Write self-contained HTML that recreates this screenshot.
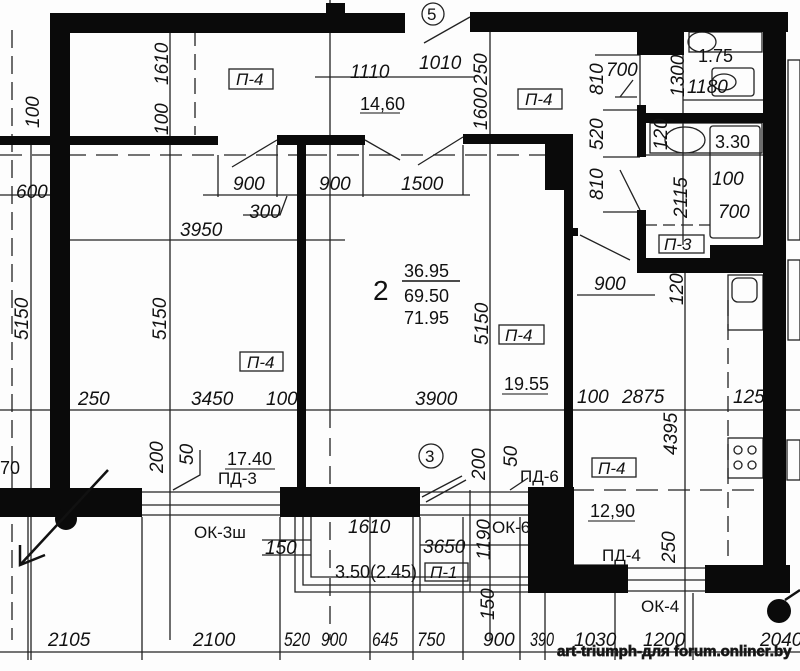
<!DOCTYPE html>
<html><head><meta charset="utf-8"><style>
html,body{margin:0;padding:0;background:#fff;}
svg{display:block;}
text{font-family:"Liberation Sans",sans-serif;fill:#111;}
.d{font-style:italic;font-size:19px;}
.n{font-size:17px;}
</style></head><body>
<svg width="800" height="671" viewBox="0 0 800 671" xmlns="http://www.w3.org/2000/svg">
<rect width="800" height="671" fill="#fdfdfd"/>
<g stroke="#222" stroke-width="1.3" fill="none">
<line x1="170" y1="30" x2="170" y2="640"/>
<line x1="330" y1="0" x2="330" y2="410"/>
<line x1="490" y1="30" x2="490" y2="640"/>
<line x1="31" y1="140" x2="31" y2="660"/>
<line x1="0" y1="195" x2="50" y2="195"/>
<line x1="203" y1="195" x2="470" y2="195"/>
<line x1="68" y1="240" x2="345" y2="240"/>
<line x1="0" y1="410" x2="800" y2="410"/>
<line x1="0" y1="652" x2="800" y2="652"/>
<line x1="315" y1="77" x2="475" y2="77"/>
<line x1="218" y1="155" x2="218" y2="197"/>
<line x1="277" y1="145" x2="277" y2="197"/>
<line x1="363" y1="145" x2="363" y2="197"/>
<line x1="463" y1="145" x2="463" y2="195"/>
<line x1="640" y1="32" x2="640" y2="110"/>
<line x1="683" y1="100" x2="770" y2="100"/>
<line x1="615" y1="97" x2="637" y2="97"/>
<line x1="595" y1="55" x2="640" y2="55"/>
<line x1="603" y1="110" x2="637" y2="110"/>
<line x1="603" y1="157" x2="640" y2="157"/>
<line x1="603" y1="212" x2="640" y2="212"/>
<line x1="683" y1="55" x2="683" y2="113"/>
<line x1="683" y1="123" x2="683" y2="245"/>
<line x1="685" y1="273" x2="685" y2="650"/>
<line x1="577" y1="295" x2="655" y2="295"/>
<line x1="645" y1="155" x2="765" y2="155"/>
<line x1="645" y1="225" x2="710" y2="225" stroke-dasharray="12 6"/>
<line x1="728" y1="300" x2="728" y2="560" stroke-dasharray="16 8"/>
<line x1="195" y1="30" x2="195" y2="135" stroke-dasharray="16 8"/>
<line x1="12" y1="30" x2="12" y2="640" stroke-dasharray="18 8"/>
<line x1="0" y1="155" x2="300" y2="155" stroke-dasharray="22 10"/>
<line x1="305" y1="155" x2="545" y2="155" stroke-dasharray="22 10"/>
<line x1="572" y1="490" x2="760" y2="490" stroke-dasharray="22 10"/>
<line x1="330" y1="410" x2="330" y2="640" stroke-dasharray="18 10"/>
<line x1="28" y1="517" x2="28" y2="660"/>
<line x1="142" y1="517" x2="142" y2="660"/>
<line x1="280" y1="517" x2="280" y2="660"/>
<line x1="370" y1="517" x2="370" y2="660"/>
<line x1="413" y1="517" x2="413" y2="660"/>
<line x1="463" y1="517" x2="463" y2="660"/>
<line x1="520" y1="517" x2="520" y2="660"/>
<line x1="545" y1="593" x2="545" y2="660"/>
<line x1="615" y1="593" x2="615" y2="660"/>
<line x1="693" y1="593" x2="693" y2="660"/>
<polyline points="295,517 295,592 547,592"/>
<polyline points="303,517 303,585 547,585"/>
<polyline points="311,517 311,577 547,577"/>
<line x1="262" y1="555" x2="311" y2="555"/>
<line x1="262" y1="540" x2="311" y2="540"/>
<line x1="420" y1="545" x2="550" y2="545"/>
<line x1="420" y1="517" x2="420" y2="592"/>
<line x1="470" y1="490" x2="470" y2="592"/>
<line x1="548" y1="517" x2="548" y2="592"/>
<line x1="142" y1="492" x2="280" y2="492"/>
<line x1="142" y1="505" x2="280" y2="505"/>
<line x1="142" y1="515" x2="280" y2="515"/>
<line x1="420" y1="492" x2="528" y2="492"/>
<line x1="420" y1="505" x2="528" y2="505"/>
<line x1="420" y1="515" x2="528" y2="515"/>
<line x1="628" y1="568" x2="705" y2="568"/>
<line x1="628" y1="580" x2="705" y2="580"/>
<line x1="628" y1="591" x2="705" y2="591"/>
<line x1="572" y1="565" x2="628" y2="565"/>
<line x1="232" y1="167" x2="277" y2="140"/>
<line x1="365" y1="140" x2="400" y2="160"/>
<line x1="418" y1="165" x2="463" y2="137"/>
<line x1="424" y1="43" x2="470" y2="17"/>
<line x1="580" y1="235" x2="630" y2="260"/>
<line x1="620" y1="170" x2="640" y2="210"/>
<line x1="620" y1="97" x2="633" y2="80"/>
<line x1="422" y1="497" x2="462" y2="476"/>
<line x1="426" y1="502" x2="466" y2="480"/>
<polyline points="173,490 200,475 200,450"/>
<polyline points="510,490 528,478"/>
<rect x="645" y="32" width="38" height="20"/>
<ellipse cx="702" cy="42" rx="14" ry="10"/>
<rect x="689" y="32" width="73" height="20"/>
<rect x="712" y="68" width="42" height="28" rx="3"/>
<ellipse cx="724" cy="82" rx="12" ry="8"/>
<rect x="650" y="123" width="112" height="30"/>
<ellipse cx="685" cy="140" rx="20" ry="13"/>
<rect x="710" y="126" width="50" height="112" rx="3"/>
<rect x="728" y="275" width="35" height="55"/>
<rect x="732" y="278" width="25" height="24" rx="6"/>
<rect x="728" y="438" width="35" height="40"/>
<circle cx="738" cy="450" r="4"/><circle cx="752" cy="450" r="4"/>
<circle cx="738" cy="465" r="4"/><circle cx="752" cy="465" r="4"/>
<rect x="787" y="440" width="13" height="40"/>
<rect x="788" y="60" width="12" height="180"/>
<rect x="788" y="260" width="12" height="80"/>
<rect x="229" y="69" width="44" height="20"/>
<rect x="518" y="89" width="44" height="20"/>
<rect x="659" y="235" width="45" height="18"/>
<rect x="240" y="352" width="43" height="19"/>
<rect x="499" y="325" width="45" height="19"/>
<rect x="592" y="458" width="44" height="19"/>
<rect x="425" y="563" width="43" height="18"/>
<polyline points="243,215 280,215 287,196"/>
<circle cx="433" cy="14" r="11"/>
<circle cx="431" cy="456" r="12"/>
</g>
<g fill="#0a0a0a">
<rect x="50" y="13" width="355" height="20"/>
<rect x="326" y="3" width="19" height="11"/>
<rect x="470" y="12" width="318" height="20"/>
<rect x="50" y="13" width="20" height="478"/>
<rect x="0" y="136" width="218" height="9"/>
<rect x="277" y="135" width="88" height="10"/>
<rect x="297" y="140" width="9" height="350"/>
<rect x="463" y="134" width="109" height="10"/>
<rect x="545" y="134" width="27" height="56"/>
<rect x="564" y="134" width="9" height="432"/>
<rect x="572" y="228" width="6" height="8"/>
<rect x="637" y="32" width="47" height="23"/>
<rect x="637" y="105" width="9" height="52"/>
<rect x="637" y="113" width="128" height="10"/>
<rect x="637" y="210" width="9" height="63"/>
<rect x="710" y="245" width="55" height="28"/>
<rect x="637" y="258" width="128" height="15"/>
<rect x="763" y="12" width="23" height="580"/>
<rect x="0" y="488" width="142" height="29"/>
<rect x="280" y="487" width="140" height="30"/>
<rect x="528" y="487" width="46" height="106"/>
<rect x="528" y="565" width="100" height="28"/>
<rect x="705" y="565" width="85" height="28"/>
<circle cx="66" cy="519" r="11"/>
<circle cx="779" cy="611" r="12"/>
</g>
<g stroke="#111" stroke-width="2.5" fill="none">
<line x1="108" y1="470" x2="20" y2="565"/>
<polyline points="20,545 20,565 45,555"/>
<line x1="785" y1="600" x2="800" y2="590"/>
</g>
<g class="d">
<text transform="translate(168,85) rotate(-90)">1610</text>
<text transform="translate(168,135) rotate(-90)">100</text>
<text transform="translate(39,128) rotate(-90)">100</text>
<text x="350" y="78">1110</text>
<text x="419" y="69">1010</text>
<text transform="translate(487,85) rotate(-90)">250</text>
<text transform="translate(487,130) rotate(-90)">1600</text>
<text transform="translate(603,95) rotate(-90)">810</text>
<text x="606" y="76">700</text>
<text transform="translate(684,97) rotate(-90)">1300</text>
<text x="687" y="93">1180</text>
<text transform="translate(603,150) rotate(-90)">520</text>
<text transform="translate(667,150) rotate(-90)">120</text>
<text transform="translate(603,200) rotate(-90)">810</text>
<text transform="translate(687,218) rotate(-90)">2115</text>
<text x="712" y="185">100</text>
<text x="718" y="218">700</text>
<text x="594" y="290">900</text>
<text transform="translate(683,305) rotate(-90)">120</text>
<text x="16" y="198">600</text>
<text x="233" y="190">900</text>
<text x="319" y="190">900</text>
<text x="401" y="190">1500</text>
<text x="249" y="218">300</text>
<text x="180" y="236">3950</text>
<text transform="translate(28,340) rotate(-90)">5150</text>
<text transform="translate(166,340) rotate(-90)">5150</text>
<text transform="translate(488,345) rotate(-90)">5150</text>
<text x="78" y="405">250</text>
<text x="191" y="405">3450</text>
<text x="266" y="405">100</text>
<text x="415" y="405">3900</text>
<text x="577" y="403">100</text>
<text x="622" y="403">2875</text>
<text transform="translate(677,455) rotate(-90)">4395</text>
<text x="733" y="403">125</text>
<text transform="translate(163,473) rotate(-90)">200</text>
<text transform="translate(193,465) rotate(-90)">50</text>
<text transform="translate(485,480) rotate(-90)">200</text>
<text transform="translate(517,467) rotate(-90)">50</text>
<text x="348" y="533">1610</text>
<text x="265" y="554">150</text>
<text x="423" y="553">3650</text>
<text transform="translate(490,560) rotate(-90)">1190</text>
<text transform="translate(675,563) rotate(-90)">250</text>
<text transform="translate(494,620) rotate(-90)">150</text>
<text x="48" y="646">2105</text>
<text x="193" y="646">2100</text>
<text x="284" y="646" textLength="26" lengthAdjust="spacingAndGlyphs">520</text>
<text x="321" y="646" textLength="26" lengthAdjust="spacingAndGlyphs">900</text>
<text x="372" y="646" textLength="26" lengthAdjust="spacingAndGlyphs">645</text>
<text x="417" y="646" textLength="28" lengthAdjust="spacingAndGlyphs">750</text>
<text x="483" y="646">900</text>
<text x="530" y="646" textLength="24" lengthAdjust="spacingAndGlyphs">390</text>
<text x="574" y="646">1030</text>
<text x="643" y="646">1200</text>
<text x="760" y="646">2040</text>
</g>
<g class="n">
<text x="236" y="85" font-style="italic">П-4</text>
<text x="525" y="105" font-style="italic">П-4</text>
<text x="664" y="250" font-style="italic">П-3</text>
<text x="247" y="368" font-style="italic">П-4</text>
<text x="505" y="341" font-style="italic">П-4</text>
<text x="598" y="474" font-style="italic">П-4</text>
<text x="430" y="578" font-style="italic">П-1</text>
<text x="360" y="110" font-size="18">14,60</text>
<line x1="360" y1="113" x2="400" y2="113" stroke="#111"/>
<text x="698" y="62" font-size="18">1.75</text>
<text x="715" y="148" font-size="18">3.30</text>
<text x="373" y="300" font-size="28">2</text>
<text x="404" y="277" font-size="18">36.95</text>
<line x1="402" y1="281" x2="460" y2="281" stroke="#111" stroke-width="1.5"/>
<text x="404" y="302" font-size="18">69.50</text>
<text x="404" y="324" font-size="18">71.95</text>
<text x="504" y="390" font-size="18">19.55</text>
<line x1="502" y1="394" x2="548" y2="394" stroke="#111"/>
<text x="227" y="465" font-size="18">17.40</text>
<line x1="225" y1="469" x2="275" y2="469" stroke="#111"/>
<text x="218" y="484">ПД-3</text>
<text x="520" y="482">ПД-6</text>
<text x="590" y="517" font-size="18">12,90</text>
<line x1="588" y1="521" x2="635" y2="521" stroke="#111"/>
<text x="194" y="538">ОК-3ш</text>
<text x="492" y="533">ОК-6</text>
<text x="602" y="561">ПД-4</text>
<text x="641" y="612">ОК-4</text>
<text x="335" y="578" font-size="18">3.50(2.45)</text>
<text x="427" y="20" font-size="17">5</text>
<text x="425" y="462" font-size="17">3</text>
<text x="0" y="474" font-size="18">70</text>
</g>
<text x="557" y="656" font-size="15" font-weight="bold" fill="#fff" stroke="#222" stroke-width="0.8">art-triumph-для forum.onliner.by</text>
</svg>
</body></html>
